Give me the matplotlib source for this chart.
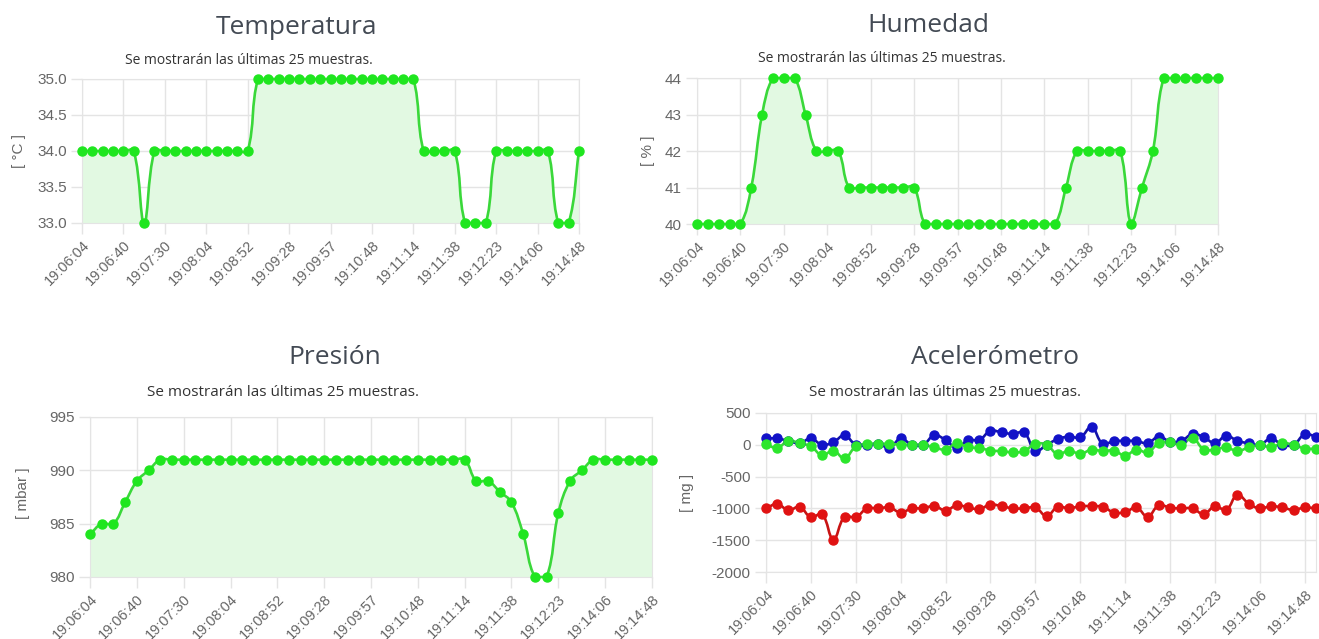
import numpy as np
import matplotlib
matplotlib.use('Agg')
import matplotlib.pyplot as plt
from matplotlib.path import Path
from matplotlib.patches import PathPatch

# tick labels (one every 4 samples)
time_labels = ['19:06:04', '19:06:40', '19:07:30', '19:08:04', '19:08:52',
               '19:09:28', '19:09:57', '19:10:48', '19:11:14', '19:11:38',
               '19:12:23', '19:14:06', '19:14:48']

temperatura = [34, 34, 34, 34, 34, 34, 33, 34, 34, 34,
               34, 34, 34, 34, 34, 34, 34, 35, 35, 35,
               35, 35, 35, 35, 35, 35, 35, 35, 35, 35,
               35, 35, 35, 34, 34, 34, 34, 33, 33, 33,
               34, 34, 34, 34, 34, 34, 33, 33, 34]

humedad = [40, 40, 40, 40, 40, 41, 43, 44, 44, 44,
           43, 42, 42, 42, 41, 41, 41, 41, 41, 41,
           41, 40, 40, 40, 40, 40, 40, 40, 40, 40,
           40, 40, 40, 40, 41, 42, 42, 42, 42, 42,
           40, 41, 42, 44, 44, 44, 44, 44, 44]

presion = [984, 985, 985, 987, 989, 990, 991, 991, 991, 991,
           991, 991, 991, 991, 991, 991, 991, 991, 991, 991,
           991, 991, 991, 991, 991, 991, 991, 991, 991, 991,
           991, 991, 991, 989, 989, 988, 987, 984, 980, 980,
           986, 989, 990, 991, 991, 991, 991, 991, 991]

acc_x = [100, 100, 60, 25, 100, 0, 40, 150, 0, -10,
         20, -50, 100, 0, 0, 150, 75, -50, 75, 75,
         220, 195, 170, 195, -100, 0, 90, 130, 115, 280,
         15, 60, 60, 60, 25, 130, 50, 60, 170, 120,
         25, 145, 60, 25, 0, 100, 0, 0, 165, 130]

acc_y = [10, -50, 65, 25, -25, -165, -90, -215, -25, 15,
         15, 15, 0, 0, 0, -40, -75, 25, -40, -50,
         -90, -100, -120, -100, 15, 0, -150, -90, -145, -75,
         -100, -90, -170, -75, -120, 25, 40, 0, 110, -75,
         -75, -40, -100, -40, 0, -40, 25, 0, -60, -60]

acc_z = [-1000, -930, -1030, -975, -1140, -1090, -1490, -1130, -1140, -1000,
         -1000, -985, -1065, -1000, -1000, -960, -1035, -950, -985, -1010,
         -940, -965, -1000, -1000, -985, -1120, -975, -1000, -965, -965,
         -975, -1065, -1060, -985, -1130, -950, -990, -1000, -1000, -1090,
         -965, -1025, -785, -925, -1000, -965, -985, -1025, -985, -1000]

W, H = 1319, 639
fig = plt.figure(figsize=(W / 100, H / 100), dpi=100)

GRID = '#e4e4e4'
TICK = '#666666'
SUB = 'Se mostrarán las últimas 25 muestras.'


def px_axes(x0, y0, x1, y1):
    # pixel box (top-left origin) -> axes
    return fig.add_axes([x0 / W, 1 - y1 / H, (x1 - x0) / W, (y1 - y0) / H])


def spline(ax, y, tension=0.4):
    # chart.js style bezier through the points, computed in pixel space
    x = np.arange(len(y))
    pts = ax.transData.transform(np.column_stack([x, y]).astype(float))
    n = len(pts)
    cp_prev = pts.copy()
    cp_next = pts.copy()
    for i in range(n):
        prev = pts[i - 1] if i > 0 else pts[i]
        nxt = pts[i + 1] if i < n - 1 else pts[i]
        cur = pts[i]
        d01 = np.hypot(*(cur - prev))
        d12 = np.hypot(*(nxt - cur))
        tot = d01 + d12
        s01 = d01 / tot if tot else 0
        s12 = d12 / tot if tot else 0
        cp_prev[i] = cur - tension * s01 * (nxt - prev)
        cp_next[i] = cur + tension * s12 * (nxt - prev)
    bb = ax.bbox
    for cp in (cp_prev, cp_next):
        cp[:, 0] = np.clip(cp[:, 0], bb.x0, bb.x1)
        cp[:, 1] = np.clip(cp[:, 1], bb.y0, bb.y1)
    verts = [pts[0]]
    codes = [Path.MOVETO]
    for i in range(n - 1):
        verts += [cp_next[i], cp_prev[i + 1], pts[i + 1]]
        codes += [Path.CURVE4] * 3
    return ax.transData.inverted().transform(np.array(verts)), codes


def style(ax, n, ylim, yticks, yfmt):
    ax.set_xlim(0, n - 1)
    ax.set_ylim(*ylim)
    ax.set_yticks(yticks)
    ax.set_yticklabels([yfmt.format(v) for v in yticks])
    ax.set_xticks(range(0, n, 4)[:len(time_labels)])
    ax.set_xticklabels(time_labels, rotation=45, ha='right',
                       rotation_mode='anchor')
    ax.grid(True, color=GRID, lw=1)
    ax.set_axisbelow(True)
    for s in ax.spines.values():
        s.set_color(GRID)
    ax.tick_params(length=8, color=GRID, width=1, labelcolor=TICK,
                   labelsize=11, pad=3)
    for lab in ax.get_xticklabels():
        lab.set_fontsize(10.5)
    for lab in ax.get_xticklabels() + ax.get_yticklabels():
        lab.set_family('Liberation Sans')


def draw_series(ax, y, line_c, dot_c, fill_c=None):
    verts, codes = spline(ax, y)
    if fill_c is not None:
        ymin = ax.get_ylim()[0]
        fv = np.vstack([verts, [[len(y) - 1, ymin], [0, ymin], [0, ymin]]])
        fc = codes + [Path.LINETO, Path.LINETO, Path.CLOSEPOLY]
        ax.add_patch(PathPatch(Path(fv, fc), facecolor=fill_c, lw=0, zorder=2))
    ax.add_patch(PathPatch(Path(verts, codes), fill=False, edgecolor=line_c,
                           lw=1.9, zorder=3, clip_on=False))
    ax.plot(range(len(y)), y, 'o', ms=6.5, color=dot_c, mec=dot_c,
            zorder=4, clip_on=False)


def heading(cx_title, y_title, cx_sub, y_sub, title, sub_size):
    fig.text(cx_title / W, 1 - y_title / H, title, ha='center', va='center',
             fontsize=19, color='#434a54', family='Open Sans')
    fig.text(cx_sub / W, 1 - y_sub / H, SUB, ha='center', va='center',
             fontsize=sub_size, color='#333333', family='Open Sans')


def ylabel(x, y, txt):
    fig.text(x / W, 1 - y / H, txt, rotation=90, ha='center', va='center',
             fontsize=11, color=TICK, family='Liberation Sans')


GREEN_LINE = '#3ad83a'
GREEN_DOT = '#1fe61f'
GREEN_FILL = '#e2f9e2'

# Temperatura
ax1 = px_axes(82, 79, 579, 223)
style(ax1, len(temperatura), (33, 35), [33, 33.5, 34, 34.5, 35], '{:.1f}')
draw_series(ax1, temperatura, GREEN_LINE, GREEN_DOT, GREEN_FILL)
heading(296, 27, 249, 60, 'Temperatura', 10)
ylabel(19, 151, '[ °C ]')

# Humedad
ax2 = px_axes(697, 78, 1218, 224)
style(ax2, len(humedad), (40, 44), [40, 41, 42, 43, 44], '{:d}')
draw_series(ax2, humedad, GREEN_LINE, GREEN_DOT, GREEN_FILL)
heading(928, 25, 882, 58, 'Humedad', 10)
ylabel(648, 151, '[ % ]')

# Presión
ax3 = px_axes(90, 417, 652, 577)
style(ax3, len(presion), (980, 995), [980, 985, 990, 995], '{:d}')
draw_series(ax3, presion, GREEN_LINE, GREEN_DOT, GREEN_FILL)
heading(335, 357, 283, 393, 'Presión', 11)
ylabel(23, 493, '[ mbar ]')

# Acelerómetro
ax4 = px_axes(766, 413, 1316, 572)
style(ax4, len(acc_z), (-2000, 500), [-2000, -1500, -1000, -500, 0, 500], '{:d}')
draw_series(ax4, acc_z, '#c81414', '#e01212')
draw_series(ax4, acc_x, '#1414a8', '#1212c8')
draw_series(ax4, acc_y, '#3ad83a', '#2ce62c')
heading(995, 357, 945, 392, 'Acelerómetro', 11)
ylabel(687, 493, '[ mg ]')

fig.savefig('out.png', dpi=100)
